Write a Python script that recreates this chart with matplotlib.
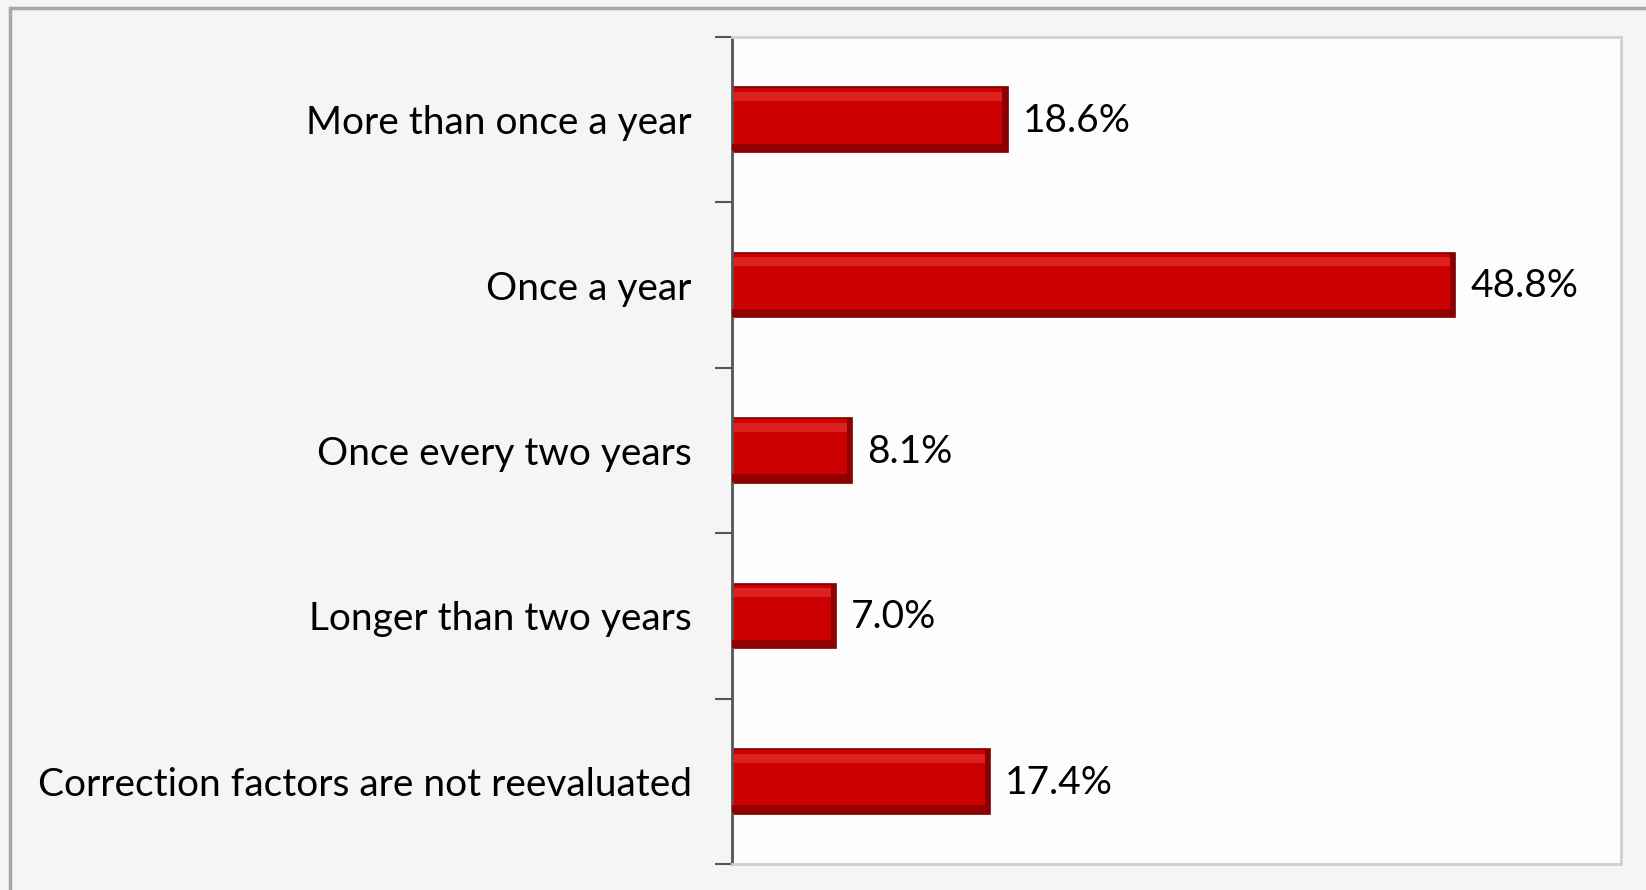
import matplotlib.pyplot as plt
from matplotlib.patches import Rectangle

categories = ['More than once a year', 'Once a year', 'Once every two years',
              'Longer than two years', 'Correction factors are not reevaluated']
values = [18.6, 48.8, 8.1, 7.0, 17.4]
value_labels = ['18.6%', '48.8%', '8.1%', '7.0%', '17.4%']

plt.rcParams['font.family'] = ['Lato', 'DejaVu Sans']

fig = plt.figure(figsize=(16.46, 8.90), dpi=100, facecolor='#f5f5f5')
# outer frame
fig.patches.append(Rectangle((10 / 1646, -0.1), 1.2, 1 - 8 / 890 + 0.1, transform=fig.transFigure,
                             fill=False, edgecolor='#a8a8a8', linewidth=2.5))
ax = fig.add_axes([732 / 1646, 1 - 864 / 890, (1621 - 732) / 1646, (864 - 37) / 890])
ax.set_facecolor('#fdfdfd')

y = list(range(len(categories)))
h = 0.39
# bar + bevel layers
ax.barh(y, values, height=h, color='#cc0000', edgecolor='#7a0000', linewidth=1.2, zorder=2)
ax.barh([i - h * 0.36 for i in y], [v - 0.3 for v in values], height=h * 0.14, left=0.15,
        color='#dd2020', linewidth=0, zorder=3)
ax.barh([i + h * 0.43 for i in y], [v - 0.05 for v in values], height=h * 0.12,
        color='#930000', linewidth=0, zorder=3)
ax.barh(y, [0.35] * len(values), left=[v - 0.35 for v in values], height=h,
        color='#8a0000', linewidth=0, zorder=3)

for yi, v, lab in zip(y, values, value_labels):
    ax.annotate(lab, (v, yi), xytext=(11, -1), textcoords='offset points',
                va='center', ha='left', fontsize=28, color='black')

ax.set_xlim(0, 60)
ax.set_ylim(len(categories) - 0.5, -0.5)
ax.set_xticks([])
ax.set_yticks(y)
ax.set_yticklabels(categories, fontsize=28)
ax.set_yticks([i - 0.5 for i in range(len(categories) + 1)], minor=True)
ax.tick_params(axis='y', which='major', length=0, pad=29)
ax.tick_params(axis='y', which='minor', length=12, width=1.5, color='#555555')

for s in ['top', 'right', 'bottom']:
    ax.spines[s].set_color('#d0d0d0')
    ax.spines[s].set_linewidth(2)
ax.spines['left'].set_color('#555555')
ax.spines['left'].set_linewidth(2)

fig.savefig('out.png', dpi=100, facecolor=fig.get_facecolor())
